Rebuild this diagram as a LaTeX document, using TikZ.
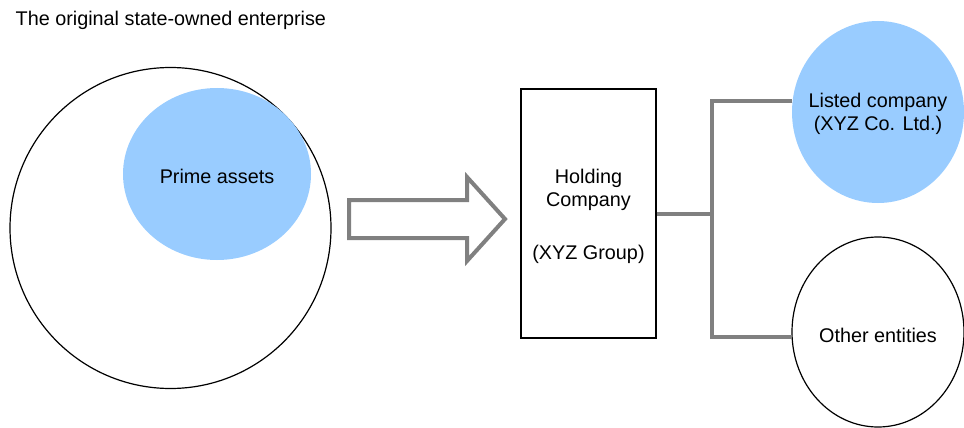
\documentclass[tikz,border=0pt]{standalone}
\usepackage{fontspec}
\setmainfont{Liberation Sans}
\usepackage{tikz}
\usetikzlibrary{shapes.geometric}

\definecolor{assetblue}{HTML}{99CCFF}
\definecolor{linkgray}{HTML}{808080}

\begin{document}
\begin{tikzpicture}[x=1pt, y=-1pt, font=\fontsize{19.8}{23}\selectfont]

	\tikzstyle{entity_open} = [ellipse, draw=black, line width=1.2pt, fill=white, inner sep=0]
	\tikzstyle{entity_filled} = [ellipse, fill=assetblue, inner sep=0]
	\tikzstyle{inside} = [align=center, inner sep=0]
	\tikzstyle{link} = [draw=linkgray, line width=4pt]

	\useasboundingbox (0,0) rectangle (964,428);

%------------------------------------------------------------
	\node[anchor=base west, inner sep=0] (title) at (15.5,25.5) {The original state-owned enterprise};

	\node[circle, draw=black, line width=1.2pt, minimum size=321pt] (soe) at (170.5,228) {};
	\node[entity_filled, minimum width=188pt, minimum height=172pt,
		label={[inside, yshift=-2pt]center:Prime assets}] (prime) at (217,174) {};
%------------------------------------------------------------
	\draw[link, fill=white] (349,200) -- (467,200) -- (467,177) -- (505,219) -- (467,261) -- (467,238) -- (349,238) -- cycle;
%------------------------------------------------------------
	\node[rectangle, draw=black, line width=1.2pt, minimum width=135pt, minimum height=249pt,
		label={[inside, yshift=-3pt]center:Holding\\Company\\[30pt](XYZ Group)}] (hold) at (588.5,213.5) {};
%------------------------------------------------------------
	\node[entity_filled, minimum width=172pt, minimum height=182pt,
		label={[inside, yshift=-2pt]center:Listed company\\(XYZ Co. Ltd.)}] (listed) at (878,112) {};
	\node[entity_open, minimum width=172pt, minimum height=190pt,
		label={[inside, yshift=-3pt]center:Other entities}] (other) at (878,332) {};

	\coordinate (fork) at (712,213.5);

	\path[link] (hold.east) -- (fork);
	\path[link] (listed.173) -| (fork) |- (other.183);

\end{tikzpicture}
\end{document}
